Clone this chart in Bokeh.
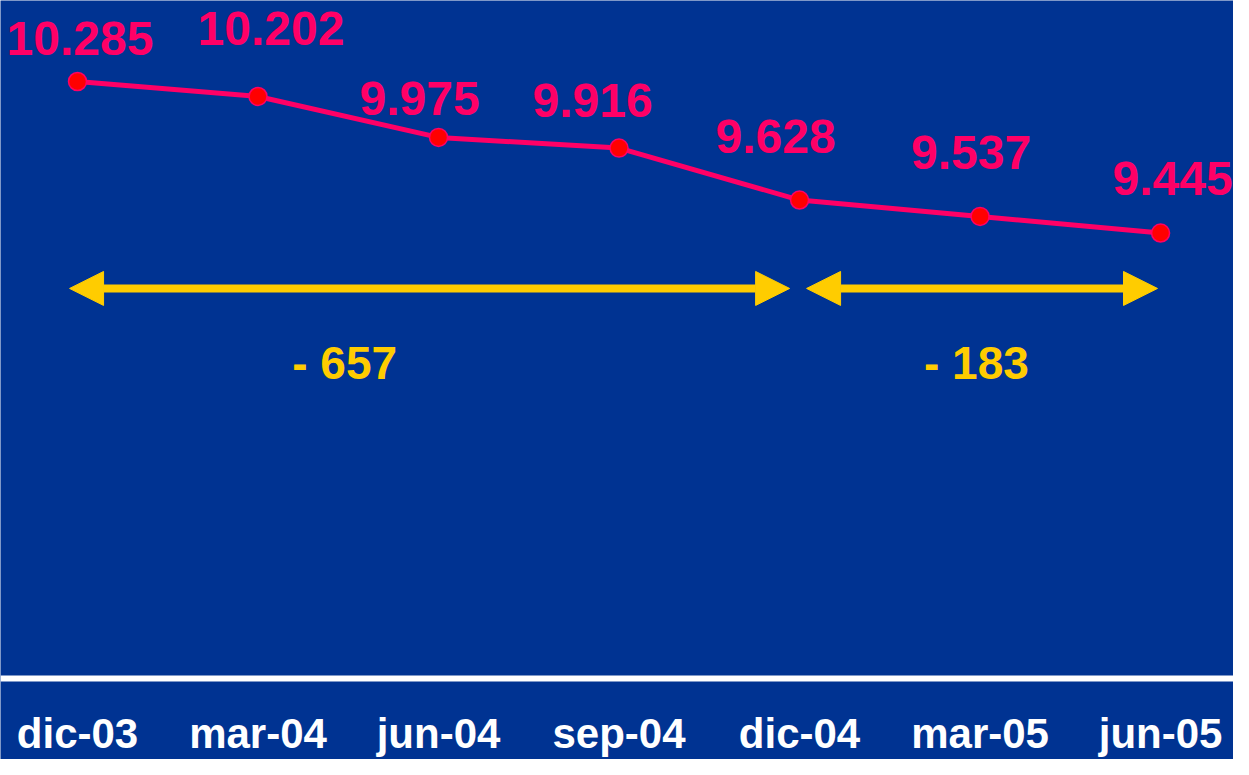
from bokeh.plotting import figure
from bokeh.models import (ColumnDataSource, LabelSet, Arrow, NormalHead, Span, Range1d)
from bokeh.core.properties import value
from bokeh.embed import file_html
from bokeh.resources import INLINE

# ---- data ----
periods = ["dic-03", "mar-04", "jun-04", "sep-04", "dic-04", "mar-05", "jun-05"]
values = [10285, 10202, 9975, 9916, 9628, 9537, 9445]
value_labels = ["10.285", "10.202", "9.975", "9.916", "9.628", "9.537", "9.445"]

# ---- style ----
BG = "#003392"
PINK = "#FF0066"
RED = "#FF0000"
YELLOW = "#FFCC00"
FONT = "Liberation Sans"

# label placement (pixels, layout only)
lab_dx = [2.5, 13, -19, -26.5, -24, -9, 12]
lab_dy = [27, 51, 22, 31, 47, 47, 38]

idx = list(range(len(periods)))

W, H = 1233, 759
Y_AXIS = 6976           # value at the white base line
Y0, Y1 = 6527, 10734
p = figure(width=W, height=H, output_backend="svg", toolbar_location=None,
           x_range=Range1d(-0.4266, 6.404), y_range=Range1d(Y0, Y1),
           min_border_left=0, min_border_right=0, min_border_top=0,
           min_border_bottom=0)
p.background_fill_color = BG
p.border_fill_color = BG
p.outline_line_color = None
p.xgrid.visible = False
p.ygrid.visible = False
p.xaxis.visible = False
p.yaxis.visible = False

# base line and category labels
p.add_layout(Span(location=Y_AXIS, dimension="width", line_color="white", line_width=6))
cat_src = ColumnDataSource(dict(x=idx, y=[Y_AXIS] * len(idx), lab=periods))
p.add_layout(LabelSet(x="x", y="y", text="lab", source=cat_src, y_offset=-70,
                      text_align="center", text_baseline="alphabetic",
                      text_color="white", text_font=value(FONT),
                      text_font_style="bold", text_font_size="42px"))

src = ColumnDataSource(dict(x=idx, y=values, lab=value_labels, dx=lab_dx, dy=lab_dy))
p.line("x", "y", source=src, line_color=PINK, line_width=5)
p.scatter("x", "y", source=src, size=18, fill_color=RED, line_color=PINK, line_width=1.5)

p.add_layout(LabelSet(x="x", y="y", text="lab", source=src, x_offset="dx", y_offset="dy",
                      text_align="center", text_baseline="alphabetic",
                      text_color=PINK, text_font=value(FONT), text_font_style="bold",
                      text_font_size="48px"))

# arrows spanning periods
arrow_y = 9138
label_y = 8635
spans = [(0, 4), (4, 6)]
tip_pad = [(-0.044, -0.055), (0.039, -0.017)]
label_x = [1.48, 4.98]
diff_texts = []
for (a, b), (pa, pb) in zip(spans, tip_pad):
    p.add_layout(Arrow(
        start=NormalHead(size=34, fill_color=YELLOW, line_color=YELLOW, line_width=1),
        end=NormalHead(size=34, fill_color=YELLOW, line_color=YELLOW, line_width=1),
        x_start=a + pa, y_start=arrow_y, x_end=b + pb, y_end=arrow_y,
        line_color=YELLOW, line_width=8))
    diff_texts.append(f"- {values[a] - values[b]}")

diff_src = ColumnDataSource(dict(x=label_x, y=[label_y] * len(label_x), lab=diff_texts))
p.add_layout(LabelSet(x="x", y="y", text="lab", source=diff_src,
                      text_align="center", text_baseline="alphabetic",
                      text_color=YELLOW, text_font=value(FONT), text_font_style="bold",
                      text_font_size="46px"))

open("out.html", "w").write(file_html(p, INLINE))
